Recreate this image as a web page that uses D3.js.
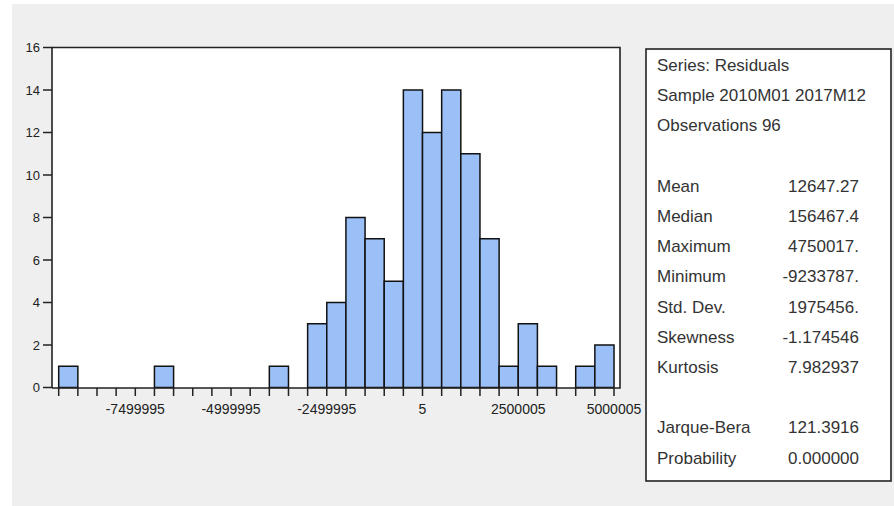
<!DOCTYPE html>
<html lang="en">
<head>
    <meta charset="UTF-8">
    <title>Histogram of Residuals</title>
    <script src="https://d3js.org/d3.v7.min.js"></script>
    <style>
        body { margin: 0; background: #ffffff; }
        svg { font-family: Arial, "Liberation Sans", sans-serif; display: block; }
    </style>
</head>
<body>
<div id="chart"></div>
<script>
// histogram counts, one per bin of width 500000 starting at -9499995
var binStart = -9499995;
var binWidth = 500000;
var counts = [1, 0, 0, 0, 0, 1, 0, 0, 0, 0, 0, 1, 0, 3, 4, 8, 7, 5, 14, 12, 14, 11, 7, 1, 3, 1, 0, 1, 2];

var xTickValues = [-7499995, -4999995, -2499995, 5, 2500005, 5000005];
var xTickLabels = ["-7499995", "-4999995", "-2499995", "5", "2500005", "5000005"];
var yTickValues = [0, 2, 4, 6, 8, 10, 12, 14, 16];

var headerLines = ["Series: Residuals", "Sample 2010M01 2017M12", "Observations 96"];
var statNames = ["Mean", "Median", "Maximum", "Minimum", "Std. Dev.", "Skewness", "Kurtosis"];
var statValues = ["12647.27", "156467.4", "4750017.", "-9233787.", "1975456.", "-1.174546", "7.982937"];
var testNames = ["Jarque-Bera", "Probability"];
var testValues = ["121.3916", "0.000000"];

var width = 894, height = 506;
var frame = { left: 52, right: 620, top: 47.5, bottom: 388 };

var bins = counts.map(function(c, i) {
    return { x0: binStart + i * binWidth, x1: binStart + (i + 1) * binWidth, n: c };
});
var edges = d3.range(counts.length + 1).map(function(i) { return binStart + i * binWidth; });

var x = d3.scaleLinear()
    .domain([binStart, binStart + counts.length * binWidth])
    .range([58.7, 614]);
var y = d3.scaleLinear().domain([0, 16]).range([387.5, 47.5]);

var svg = d3.select("#chart").append("svg")
    .attr("width", width)
    .attr("height", height);

// grey window background
svg.append("rect")
    .attr("x", 12).attr("y", 4)
    .attr("width", width - 12).attr("height", height - 4)
    .attr("fill", "#efefef");

// plot area
svg.append("rect")
    .attr("x", frame.left).attr("y", frame.top)
    .attr("width", frame.right - frame.left).attr("height", frame.bottom - frame.top)
    .attr("fill", "#ffffff");

svg.append("g")
    .selectAll("rect")
    .data(bins.filter(function(d) { return d.n > 0; }))
    .enter().append("rect")
    .attr("x", function(d) { return x(d.x0); })
    .attr("width", function(d) { return x(d.x1) - x(d.x0); })
    .attr("y", function(d) { return y(d.n); })
    .attr("height", function(d) { return y(0) - y(d.n); })
    .attr("fill", "#9bc0f8")
    .attr("stroke", "#111")
    .attr("stroke-width", 1.5);

// frame
svg.append("path")
    .attr("d", "M" + frame.left + "," + frame.bottom + "V" + frame.top + "H" + frame.right + "V" + frame.bottom + "H" + frame.left)
    .attr("fill", "none")
    .attr("stroke", "#222")
    .attr("stroke-width", 1.6);

// x ticks at every bin edge
svg.append("g")
    .selectAll("line")
    .data(edges)
    .enter().append("line")
    .attr("x1", function(d) { return x(d); })
    .attr("x2", function(d) { return x(d); })
    .attr("y1", frame.bottom)
    .attr("y2", frame.bottom + 8)
    .attr("stroke", "#222")
    .attr("stroke-width", 1.5);

svg.append("g")
    .selectAll("text")
    .data(xTickValues)
    .enter().append("text")
    .attr("x", function(d) { return x(d); })
    .attr("y", 414)
    .attr("text-anchor", "middle")
    .attr("font-size", 14)
    .attr("fill", "#222")
    .text(function(d, i) { return xTickLabels[i]; });

// y ticks
var yt = svg.append("g").selectAll("g")
    .data(yTickValues)
    .enter().append("g");
yt.append("line")
    .attr("x1", 43).attr("x2", frame.left)
    .attr("y1", function(d) { return y(d); })
    .attr("y2", function(d) { return y(d); })
    .attr("stroke", "#222")
    .attr("stroke-width", 1.5);
yt.append("text")
    .attr("x", 40)
    .attr("y", function(d) { return y(d); })
    .attr("dy", "0.35em")
    .attr("text-anchor", "end")
    .attr("font-size", 13)
    .attr("fill", "#222")
    .text(function(d) { return d; });

// statistics box
var box = { left: 646, right: 891, top: 49, bottom: 481 };
svg.append("rect")
    .attr("x", box.left).attr("y", box.top)
    .attr("width", box.right - box.left).attr("height", box.bottom - box.top)
    .attr("fill", "#ffffff")
    .attr("stroke", "#222")
    .attr("stroke-width", 1.6);

var lineY = function(slot) { return 65 + slot * 30.2; };
var st = svg.append("g")
    .attr("font-size", 17)
    .attr("fill", "#333");

headerLines.forEach(function(t, i) {
    st.append("text").attr("x", 657).attr("y", lineY(i)).attr("dy", "0.35em").text(t);
});
statNames.forEach(function(t, i) {
    st.append("text").attr("x", 657).attr("y", lineY(i + 4)).attr("dy", "0.35em").text(t);
    st.append("text").attr("x", 859).attr("y", lineY(i + 4)).attr("dy", "0.35em")
        .attr("text-anchor", "end").text(statValues[i]);
});
testNames.forEach(function(t, i) {
    st.append("text").attr("x", 657).attr("y", lineY(i + 12)).attr("dy", "0.35em").text(t);
    st.append("text").attr("x", 859).attr("y", lineY(i + 12)).attr("dy", "0.35em")
        .attr("text-anchor", "end").text(testValues[i]);
});
</script>
</body>
</html>
